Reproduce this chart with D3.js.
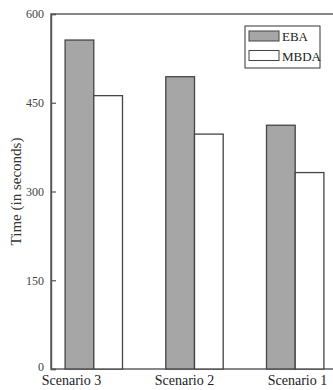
<!DOCTYPE html>
<html>
<head>
<meta charset="utf-8">
<script src="https://cdn.jsdelivr.net/npm/d3@7"></script>
<style>
  body { margin: 0; background: #fff; }
  svg { display: block; font-family: "Liberation Serif", "DejaVu Serif", serif; }
</style>
</head>
<body>
<div id="chart"></div>
<script>
const scenarios = ["Scenario 3", "Scenario 2", "Scenario 1"];
const methods = ["EBA", "MBDA"];
const ebaTimes = [556, 494, 412];
const mbdaTimes = [462, 397, 332];
const yTicks = [0, 150, 300, 450, 600];

const WIDTH = 333;
const HEIGHT = 390;
const LEFT = 51;
const RIGHT = 338;
const TOP = 14;
const BOTTOM = 369;
const AXIS_COLOR = "#555";

const rows = scenarios.map((s, i) => ({ scenario: s, EBA: ebaTimes[i], MBDA: mbdaTimes[i] }));
const fills = { EBA: "#a6a6a6", MBDA: "#ffffff" };

const svg = d3.select("#chart")
  .append("svg")
  .attr("width", WIDTH)
  .attr("height", HEIGHT);

const x = d3.scaleBand()
  .domain(scenarios)
  .range([LEFT, RIGHT])
  .paddingInner(0.43)
  .paddingOuter(0.14);

const xInner = d3.scaleBand()
  .domain(methods)
  .range([0, x.bandwidth()]);

// labels sit a bit off the bar groups in the original
const xLabel = d3.scalePoint()
  .domain(scenarios)
  .range([71, 297]);

const y = d3.scaleLinear()
  .domain([0, 600])
  .range([BOTTOM, TOP]);

// frame
svg.append("rect")
  .attr("x", LEFT)
  .attr("y", TOP)
  .attr("width", RIGHT - LEFT)
  .attr("height", BOTTOM - TOP)
  .attr("fill", "none")
  .attr("stroke", AXIS_COLOR)
  .attr("stroke-width", 1.4);

// bars
const group = svg.selectAll("g.group")
  .data(rows)
  .join("g")
  .attr("class", "group")
  .attr("transform", d => `translate(${x(d.scenario)},0)`);

group.selectAll("rect")
  .data(d => methods.map(m => ({ method: m, value: d[m] })))
  .join("rect")
  .attr("x", d => xInner(d.method))
  .attr("y", d => y(d.value))
  .attr("width", xInner.bandwidth())
  .attr("height", d => y(0) - y(d.value))
  .attr("fill", d => fills[d.method])
  .attr("stroke", "#444")
  .attr("stroke-width", 1.3);

// y axis
const yAxis = svg.append("g")
  .attr("transform", `translate(${LEFT},0)`)
  .call(d3.axisLeft(y).tickValues(yTicks).tickSize(-5).tickPadding(7));
yAxis.select(".domain").attr("stroke", AXIS_COLOR).attr("stroke-width", 1.4);
yAxis.selectAll(".tick line").attr("stroke", AXIS_COLOR).attr("stroke-width", 1.2);
yAxis.selectAll(".tick text")
  .attr("fill", "#444")
  .attr("font-size", "12px")
  .attr("font-family", "Liberation Serif, serif");
yAxis.select(".tick text").attr("dy", "0.1em");

// x axis labels
const xAxis = svg.append("g")
  .attr("transform", `translate(0,${BOTTOM})`)
  .call(d3.axisBottom(xLabel).tickSize(0).tickPadding(6));
xAxis.select(".domain").remove();
xAxis.selectAll(".tick text")
  .attr("fill", "#222")
  .attr("font-size", "14px")
  .attr("font-family", "Liberation Serif, serif");

// y title
svg.append("text")
  .attr("transform", `translate(21,${(TOP + BOTTOM) / 2}) rotate(-90)`)
  .attr("text-anchor", "middle")
  .attr("font-size", "15px")
  .attr("fill", "#333")
  .text("Time (in seconds)");

// legend
const legend = svg.append("g").attr("transform", "translate(245,26)");
legend.append("rect")
  .attr("width", 75)
  .attr("height", 42)
  .attr("fill", "#fff")
  .attr("stroke", "#333")
  .attr("stroke-width", 1);
const item = legend.selectAll("g.item")
  .data(methods)
  .join("g")
  .attr("class", "item")
  .attr("transform", (d, i) => `translate(4,${5 + i * 19.5})`);
item.append("rect")
  .attr("width", 30)
  .attr("height", 10)
  .attr("fill", d => fills[d])
  .attr("stroke", "#444")
  .attr("stroke-width", 1);
item.append("text")
  .attr("x", 33)
  .attr("y", 10)
  .attr("font-size", "13px")
  .attr("fill", "#222")
  .text(d => d);
</script>
</body>
</html>
